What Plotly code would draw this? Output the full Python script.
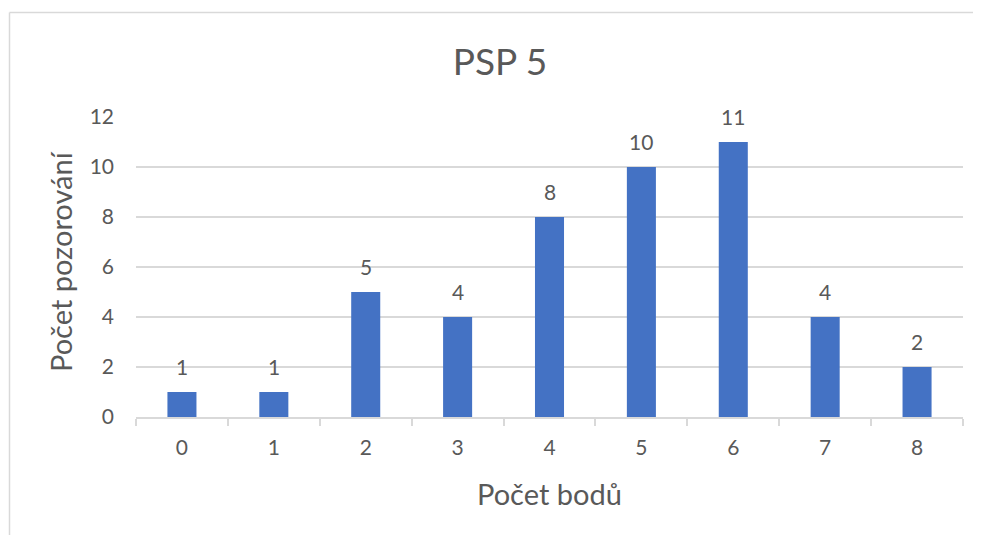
import plotly.graph_objects as go

categories = ["0", "1", "2", "3", "4", "5", "6", "7", "8"]
counts = [1, 1, 5, 4, 8, 10, 11, 4, 2]
y_ticks = [0, 2, 4, 6, 8, 10, 12]

title_text = "PSP 5"
x_title = "Počet bodů"
y_title = "Počet pozorování"

FONT = "Lato, 'Open Sans', sans-serif"
TXT = "#595959"
GRID = "#d9d9d9"
BAR = "#4472c4"

W, H = 981, 535
OFF = 8  # page offset of the figure (body margin)
# target plot area in page pixels: x 136..963, y 117..417
ML = 136 - OFF
MT = 117 - OFF
MR = W - (963 - OFF)
MB = H - (417 - OFF)
PW, PH = W - ML - MR, H - MT - MB


def px_x(px):
    return (px - OFF - ML) / PW


def px_y(py):
    return (H - MB - (py - OFF)) / PH


fig = go.Figure()
fig.add_trace(go.Bar(
    x=categories, y=counts,
    marker=dict(color=BAR, line=dict(width=0)),
    hoverinfo="x+y",
))

for c, v in zip(categories, counts):
    fig.add_annotation(x=c, y=v, text=str(v), showarrow=False,
                       yshift=26, font=dict(family=FONT, size=21, color=TXT))

fig.add_annotation(xref="paper", yref="paper", x=px_x(549), y=px_y(493),
                   text=x_title, showarrow=False, xanchor="center", yanchor="middle",
                   font=dict(family=FONT, size=29, color=TXT))
fig.add_annotation(xref="paper", yref="paper", x=px_x(61), y=px_y(262),
                   text=y_title, showarrow=False, textangle=-90,
                   xanchor="center", yanchor="middle",
                   font=dict(family=FONT, size=29, color=TXT))

# chart-area border (cropped at right and bottom)
fig.add_shape(type="line", xref="paper", yref="paper",
              x0=px_x(9.5), x1=px_x(1000), y0=px_y(12.5), y1=px_y(12.5),
              line=dict(color=GRID, width=1.5))
fig.add_shape(type="line", xref="paper", yref="paper",
              x0=px_x(9.5), x1=px_x(9.5), y0=px_y(12.5), y1=px_y(560),
              line=dict(color=GRID, width=1.5))

fig.update_layout(
    width=W, height=H,
    margin=dict(l=ML, r=MR, t=MT, b=MB, pad=0),
    paper_bgcolor="white", plot_bgcolor="white",
    showlegend=False,
    bargap=0.684,
    title=dict(text=title_text, x=(500 - OFF) / W, xref="container", xanchor="center",
               y=1 - (62 - OFF) / H, yref="container", yanchor="middle",
               font=dict(family=FONT, size=37, color=TXT)),
    font=dict(family=FONT, color=TXT),
)
fig.update_xaxes(
    type="category", showgrid=False, showline=True, linecolor=GRID, linewidth=1.5,
    ticks="outside", tickson="boundaries", ticklen=7, tickcolor=GRID, tickwidth=1.5,
    tickfont=dict(family=FONT, size=21, color=TXT), ticklabelstandoff=11,
    zeroline=False,
)
fig.update_yaxes(
    range=[0, 12], tickvals=y_ticks, showgrid=True, gridcolor=GRID, gridwidth=1.5,
    showline=False, zeroline=False, ticks="",
    tickfont=dict(family=FONT, size=21, color=TXT), ticklabelstandoff=21,
)

fig.write_html("out.html")
